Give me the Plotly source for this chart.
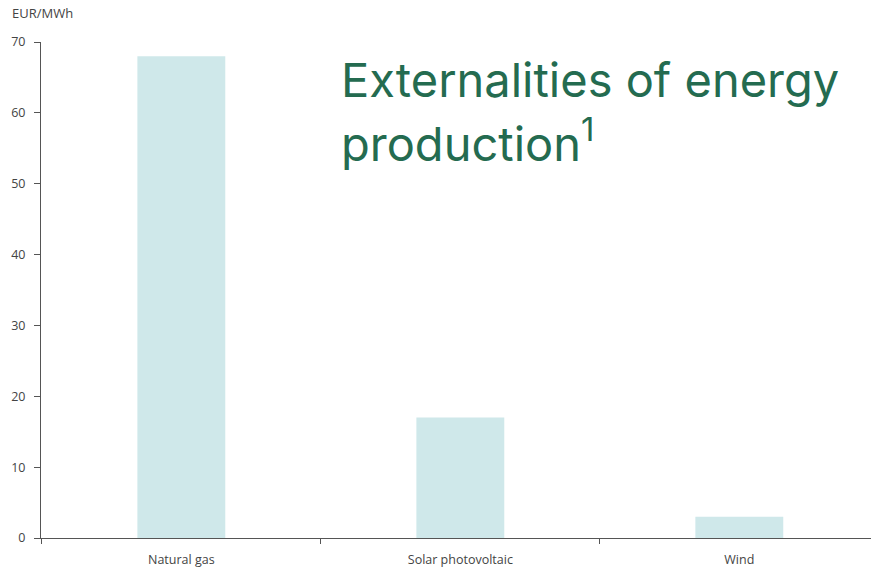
import plotly.graph_objects as go

# Energy sources and their external costs
sources = ["Natural gas", "Solar photovoltaic", "Wind"]
externality_eur_mwh = [68, 17, 3]
y_ticks = [0, 10, 20, 30, 40, 50, 60, 70]

W, H = 871, 574
M_L, M_R, M_T, M_B = 41, 0, 42, 36
plot_w = W - M_L - M_R
plot_h = H - M_T - M_B


def px_x(px):
    return (px - M_L) / plot_w


def px_y(py):
    return (H - M_B - py) / plot_h


fig = go.Figure(
    go.Bar(
        x=sources,
        y=externality_eur_mwh,
        marker=dict(color="#cfe8ea", line=dict(width=0)),
        width=0.315,
        hoverinfo="x+y",
    )
)

tick_font = dict(family="Open Sans, Noto Sans, sans-serif", size=12.5, color="#444444")
title_font = dict(family="Inter, Noto Sans, sans-serif", size=47, color="#246b50")

fig.update_layout(
    width=W,
    height=H,
    margin=dict(l=M_L, r=M_R, t=M_T, b=M_B),
    paper_bgcolor="white",
    plot_bgcolor="white",
    showlegend=False,
    xaxis=dict(
        type="category",
        range=[-0.503, 2.472],
        tickson="boundaries",
        ticks="outside",
        ticklen=5,
        tickcolor="#555555",
        showline=True,
        linecolor="#555555",
        linewidth=1,
        showgrid=False,
        zeroline=False,
        tickfont=tick_font,
        ticklabelstandoff=10,
    ),
    yaxis=dict(
        range=[0, 70],
        tickvals=y_ticks,
        ticks="outside",
        ticklen=6,
        tickcolor="#555555",
        showline=True,
        linecolor="#555555",
        linewidth=1,
        showgrid=False,
        zeroline=False,
        tickfont=tick_font,
        ticklabelstandoff=6,
    ),
    annotations=[
        dict(
            text="EUR/MWh",
            xref="paper",
            yref="paper",
            x=px_x(10),
            y=px_y(13),
            xanchor="left",
            yanchor="middle",
            showarrow=False,
            font=dict(family="Open Sans, Noto Sans, sans-serif", size=13, color="#444444"),
        ),
        dict(
            text="Externalities of energy",
            xref="paper",
            yref="paper",
            x=px_x(339),
            y=px_y(79),
            xanchor="left",
            yanchor="middle",
            align="left",
            showarrow=False,
            font=title_font,
        ),
        dict(
            text="production<sup>1</sup>",
            xref="paper",
            yref="paper",
            x=px_x(339),
            y=px_y(140),
            xanchor="left",
            yanchor="middle",
            align="left",
            showarrow=False,
            font=title_font,
        ),
    ],
)

fig.write_html("out.html")
